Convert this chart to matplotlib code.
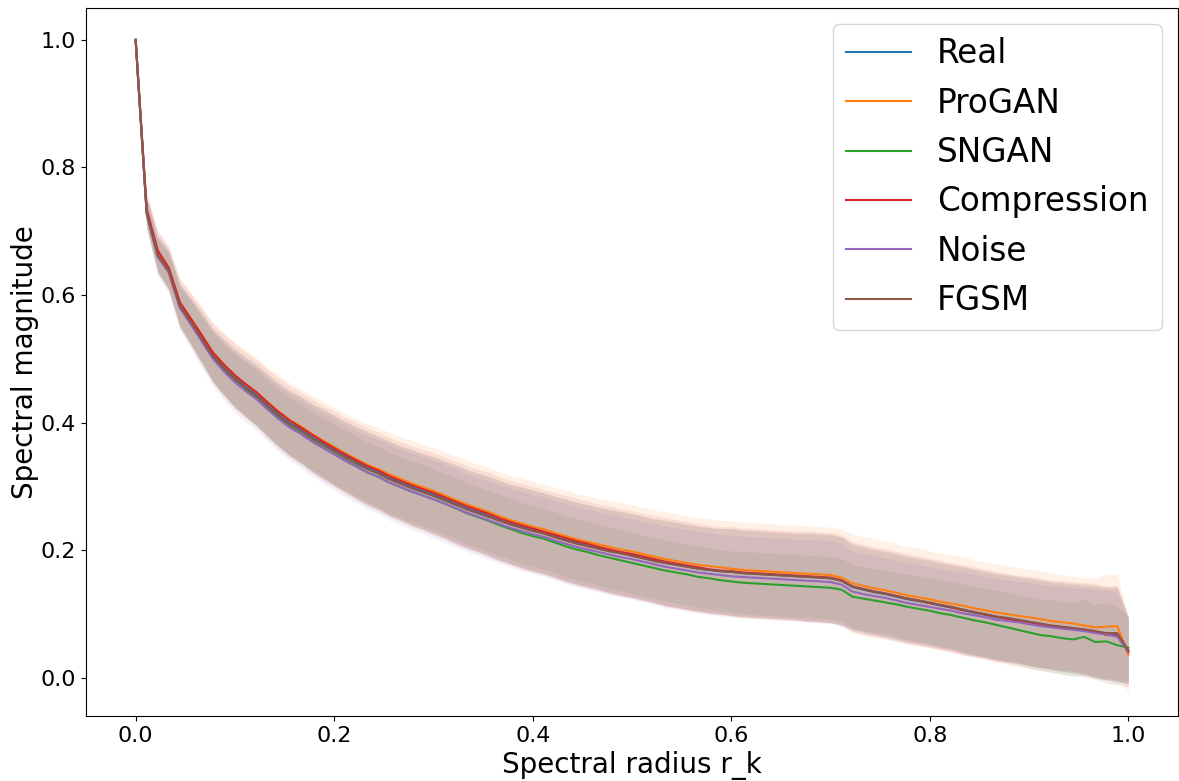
import numpy as np
import matplotlib
matplotlib.use("Agg")
import matplotlib.pyplot as plt

# Radially averaged spectra (mean and std over images), radius normalised to [0, 1]
radius = np.linspace(0.0, 1.0, 91)

labels = ["Real", "ProGAN", "SNGAN", "Compression", "Noise", "FGSM"]

real_mean = [1.000, 0.730, 0.665, 0.640, 0.585, 0.560, 0.533, 0.506, 0.487, 0.470,
             0.456, 0.443, 0.427, 0.412, 0.399, 0.389, 0.377, 0.367, 0.357, 0.347,
             0.338, 0.329, 0.322, 0.313, 0.306, 0.299, 0.293, 0.287, 0.280, 0.273,
             0.266, 0.260, 0.254, 0.247, 0.241, 0.236, 0.231, 0.227, 0.221, 0.216,
             0.211, 0.207, 0.203, 0.199, 0.195, 0.192, 0.188, 0.184, 0.180, 0.177,
             0.174, 0.171, 0.169, 0.167, 0.166, 0.164, 0.163, 0.162, 0.161, 0.160,
             0.159, 0.158, 0.157, 0.156, 0.152, 0.142, 0.138, 0.134, 0.131, 0.127,
             0.123, 0.120, 0.117, 0.113, 0.110, 0.106, 0.102, 0.099, 0.095, 0.093,
             0.090, 0.087, 0.084, 0.081, 0.079, 0.077, 0.074, 0.072, 0.068, 0.067,
             0.042]

progan_mean = [1.000, 0.733, 0.668, 0.641, 0.588, 0.563, 0.537, 0.510, 0.491, 0.474,
               0.460, 0.447, 0.431, 0.417, 0.404, 0.394, 0.382, 0.372, 0.362, 0.352,
               0.343, 0.334, 0.327, 0.319, 0.312, 0.305, 0.299, 0.293, 0.286, 0.279,
               0.272, 0.266, 0.260, 0.253, 0.247, 0.242, 0.237, 0.233, 0.227, 0.222,
               0.217, 0.213, 0.209, 0.205, 0.201, 0.198, 0.194, 0.190, 0.186, 0.183,
               0.180, 0.177, 0.175, 0.173, 0.171, 0.169, 0.168, 0.167, 0.166, 0.165,
               0.164, 0.163, 0.162, 0.161, 0.157, 0.148, 0.144, 0.140, 0.137, 0.133,
               0.129, 0.126, 0.123, 0.119, 0.116, 0.113, 0.109, 0.106, 0.102, 0.100,
               0.097, 0.095, 0.092, 0.089, 0.087, 0.085, 0.082, 0.079, 0.080, 0.081,
               0.036]

sngan_mean = [1.000, 0.728, 0.660, 0.637, 0.582, 0.557, 0.530, 0.503, 0.484, 0.467,
              0.452, 0.439, 0.422, 0.407, 0.394, 0.383, 0.371, 0.361, 0.351, 0.341,
              0.332, 0.322, 0.315, 0.306, 0.299, 0.292, 0.286, 0.280, 0.273, 0.266,
              0.258, 0.252, 0.246, 0.239, 0.233, 0.227, 0.222, 0.218, 0.212, 0.206,
              0.201, 0.197, 0.192, 0.188, 0.184, 0.180, 0.176, 0.172, 0.168, 0.165,
              0.162, 0.158, 0.156, 0.153, 0.151, 0.149, 0.148, 0.147, 0.146, 0.145,
              0.144, 0.143, 0.142, 0.141, 0.138, 0.127, 0.124, 0.121, 0.118, 0.115,
              0.111, 0.108, 0.105, 0.101, 0.098, 0.094, 0.090, 0.087, 0.083, 0.079,
              0.075, 0.071, 0.067, 0.065, 0.062, 0.060, 0.064, 0.056, 0.057, 0.051,
              0.047]

compression_mean = [1.000, 0.734, 0.670, 0.643, 0.589, 0.563, 0.537, 0.510, 0.491, 0.474,
                    0.460, 0.447, 0.431, 0.416, 0.403, 0.392, 0.381, 0.370, 0.360, 0.350,
                    0.341, 0.332, 0.325, 0.316, 0.309, 0.302, 0.296, 0.290, 0.283, 0.276,
                    0.269, 0.263, 0.257, 0.250, 0.244, 0.239, 0.234, 0.229, 0.224, 0.219,
                    0.214, 0.210, 0.205, 0.201, 0.197, 0.194, 0.190, 0.186, 0.182, 0.179,
                    0.176, 0.173, 0.170, 0.168, 0.167, 0.165, 0.164, 0.163, 0.162, 0.161,
                    0.160, 0.159, 0.158, 0.157, 0.153, 0.143, 0.139, 0.135, 0.132, 0.128,
                    0.124, 0.121, 0.117, 0.114, 0.110, 0.106, 0.103, 0.099, 0.096, 0.092,
                    0.089, 0.087, 0.084, 0.081, 0.079, 0.077, 0.075, 0.073, 0.067, 0.066,
                    0.040]

noise_mean = [1.000, 0.727, 0.660, 0.635, 0.580, 0.554, 0.527, 0.500, 0.480, 0.463,
              0.449, 0.436, 0.420, 0.405, 0.392, 0.382, 0.370, 0.360, 0.350, 0.340,
              0.331, 0.322, 0.315, 0.306, 0.299, 0.292, 0.286, 0.280, 0.273, 0.266,
              0.259, 0.253, 0.247, 0.241, 0.235, 0.230, 0.225, 0.221, 0.215, 0.210,
              0.205, 0.201, 0.197, 0.193, 0.189, 0.186, 0.182, 0.178, 0.174, 0.171,
              0.168, 0.165, 0.163, 0.161, 0.159, 0.158, 0.157, 0.156, 0.155, 0.154,
              0.153, 0.152, 0.151, 0.150, 0.146, 0.135, 0.131, 0.128, 0.125, 0.121,
              0.117, 0.114, 0.111, 0.108, 0.105, 0.101, 0.098, 0.095, 0.091, 0.089,
              0.087, 0.084, 0.081, 0.079, 0.077, 0.075, 0.073, 0.070, 0.068, 0.064,
              0.041]

fgsm_mean = [1.000, 0.729, 0.663, 0.638, 0.583, 0.558, 0.531, 0.504, 0.485, 0.468,
             0.454, 0.441, 0.425, 0.410, 0.397, 0.387, 0.375, 0.365, 0.355, 0.345,
             0.336, 0.327, 0.320, 0.311, 0.304, 0.297, 0.291, 0.285, 0.278, 0.271,
             0.264, 0.258, 0.252, 0.246, 0.240, 0.235, 0.230, 0.226, 0.220, 0.215,
             0.210, 0.206, 0.202, 0.198, 0.195, 0.191, 0.187, 0.183, 0.180, 0.177,
             0.174, 0.171, 0.169, 0.167, 0.166, 0.164, 0.163, 0.162, 0.161, 0.160,
             0.159, 0.158, 0.157, 0.156, 0.152, 0.143, 0.139, 0.135, 0.132, 0.128,
             0.124, 0.121, 0.118, 0.114, 0.111, 0.107, 0.103, 0.100, 0.096, 0.094,
             0.091, 0.088, 0.085, 0.082, 0.080, 0.078, 0.076, 0.073, 0.070, 0.070,
             0.043]

real_std = [0.000, 0.024, 0.028, 0.031, 0.034, 0.037, 0.040, 0.042, 0.044, 0.046,
            0.047, 0.048, 0.049, 0.050, 0.051, 0.052, 0.053, 0.054, 0.055, 0.055,
            0.056, 0.057, 0.057, 0.058, 0.058, 0.059, 0.059, 0.060, 0.060, 0.061,
            0.061, 0.061, 0.062, 0.062, 0.062, 0.063, 0.063, 0.063, 0.063, 0.064,
            0.064, 0.064, 0.064, 0.065, 0.065, 0.065, 0.065, 0.065, 0.066, 0.066,
            0.066, 0.066, 0.066, 0.066, 0.067, 0.067, 0.067, 0.067, 0.067, 0.067,
            0.067, 0.068, 0.068, 0.068, 0.068, 0.066, 0.066, 0.066, 0.066, 0.066,
            0.066, 0.066, 0.066, 0.066, 0.066, 0.067, 0.067, 0.067, 0.067, 0.067,
            0.067, 0.068, 0.068, 0.068, 0.069, 0.069, 0.070, 0.071, 0.072, 0.073,
            0.052]

progan_std = [0.000, 0.027, 0.032, 0.035, 0.038, 0.042, 0.045, 0.047, 0.050, 0.052,
              0.053, 0.054, 0.055, 0.057, 0.058, 0.059, 0.060, 0.061, 0.062, 0.062,
              0.063, 0.064, 0.065, 0.066, 0.066, 0.067, 0.067, 0.068, 0.068, 0.069,
              0.069, 0.069, 0.070, 0.070, 0.070, 0.071, 0.071, 0.071, 0.071, 0.072,
              0.072, 0.072, 0.072, 0.073, 0.073, 0.073, 0.073, 0.073, 0.074, 0.074,
              0.074, 0.074, 0.074, 0.074, 0.075, 0.075, 0.075, 0.075, 0.075, 0.075,
              0.075, 0.075, 0.075, 0.075, 0.076, 0.077, 0.078, 0.078, 0.077, 0.077,
              0.076, 0.077, 0.076, 0.076, 0.076, 0.077, 0.076, 0.076, 0.076, 0.076,
              0.075, 0.076, 0.076, 0.075, 0.075, 0.074, 0.075, 0.078, 0.082, 0.082,
              0.058]

sngan_std = [0.000, 0.022, 0.026, 0.028, 0.031, 0.034, 0.036, 0.038, 0.040, 0.041,
             0.042, 0.043, 0.044, 0.044, 0.045, 0.045, 0.046, 0.046, 0.047, 0.047,
             0.047, 0.047, 0.048, 0.048, 0.048, 0.048, 0.048, 0.048, 0.048, 0.048,
             0.048, 0.048, 0.048, 0.048, 0.048, 0.048, 0.048, 0.048, 0.048, 0.048,
             0.048, 0.048, 0.048, 0.048, 0.048, 0.048, 0.048, 0.048, 0.048, 0.048,
             0.048, 0.048, 0.048, 0.048, 0.048, 0.048, 0.049, 0.049, 0.049, 0.049,
             0.049, 0.049, 0.049, 0.049, 0.049, 0.050, 0.050, 0.050, 0.050, 0.050,
             0.051, 0.051, 0.051, 0.052, 0.052, 0.053, 0.053, 0.054, 0.054, 0.055,
             0.055, 0.056, 0.056, 0.057, 0.057, 0.058, 0.059, 0.059, 0.060, 0.060,
             0.050]

compression_std = [0.000, 0.025, 0.030, 0.033, 0.036, 0.039, 0.042, 0.045, 0.047, 0.049,
                   0.050, 0.051, 0.052, 0.053, 0.054, 0.055, 0.056, 0.057, 0.058, 0.058,
                   0.059, 0.060, 0.060, 0.061, 0.061, 0.062, 0.062, 0.063, 0.063, 0.064,
                   0.064, 0.064, 0.065, 0.065, 0.065, 0.066, 0.066, 0.066, 0.066, 0.067,
                   0.067, 0.067, 0.067, 0.068, 0.068, 0.068, 0.068, 0.068, 0.069, 0.069,
                   0.069, 0.069, 0.069, 0.069, 0.070, 0.070, 0.070, 0.070, 0.070, 0.070,
                   0.070, 0.071, 0.071, 0.071, 0.071, 0.070, 0.070, 0.070, 0.070, 0.070,
                   0.070, 0.070, 0.070, 0.070, 0.070, 0.071, 0.071, 0.071, 0.071, 0.071,
                   0.071, 0.072, 0.072, 0.072, 0.073, 0.073, 0.074, 0.075, 0.076, 0.077,
                   0.054]

noise_std = [0.000, 0.025, 0.029, 0.032, 0.035, 0.038, 0.041, 0.043, 0.045, 0.047,
             0.048, 0.049, 0.050, 0.051, 0.052, 0.053, 0.054, 0.055, 0.056, 0.056,
             0.057, 0.058, 0.058, 0.059, 0.059, 0.060, 0.060, 0.061, 0.061, 0.061,
             0.061, 0.061, 0.062, 0.062, 0.062, 0.062, 0.062, 0.062, 0.062, 0.063,
             0.063, 0.063, 0.063, 0.063, 0.063, 0.063, 0.063, 0.063, 0.064, 0.064,
             0.064, 0.064, 0.064, 0.064, 0.064, 0.064, 0.064, 0.064, 0.064, 0.064,
             0.064, 0.065, 0.065, 0.065, 0.065, 0.063, 0.063, 0.063, 0.063, 0.063,
             0.063, 0.063, 0.063, 0.063, 0.063, 0.064, 0.064, 0.064, 0.064, 0.064,
             0.064, 0.065, 0.065, 0.065, 0.066, 0.066, 0.067, 0.068, 0.069, 0.070,
             0.050]

fgsm_std = [0.000, 0.024, 0.028, 0.031, 0.034, 0.037, 0.040, 0.042, 0.044, 0.046,
            0.047, 0.048, 0.050, 0.051, 0.052, 0.053, 0.054, 0.055, 0.056, 0.056,
            0.057, 0.058, 0.058, 0.059, 0.059, 0.060, 0.060, 0.061, 0.061, 0.062,
            0.062, 0.062, 0.063, 0.063, 0.063, 0.064, 0.064, 0.064, 0.064, 0.065,
            0.065, 0.065, 0.065, 0.066, 0.066, 0.066, 0.066, 0.066, 0.067, 0.067,
            0.067, 0.067, 0.067, 0.067, 0.068, 0.068, 0.068, 0.068, 0.068, 0.068,
            0.068, 0.069, 0.069, 0.069, 0.069, 0.067, 0.067, 0.067, 0.067, 0.067,
            0.067, 0.067, 0.067, 0.067, 0.067, 0.068, 0.068, 0.068, 0.068, 0.068,
            0.068, 0.069, 0.069, 0.069, 0.070, 0.070, 0.071, 0.072, 0.073, 0.074,
            0.053]

means = [real_mean, progan_mean, sngan_mean, compression_mean, noise_mean, fgsm_mean]
stds = [real_std, progan_std, sngan_std, compression_std, noise_std, fgsm_std]

fig = plt.figure(figsize=(11.79, 7.81), dpi=100)
ax = fig.add_axes([86 / 1179, 65 / 781, 1092 / 1179, 708 / 781])

for i, (name, m, s) in enumerate(zip(labels, means, stds)):
    m = np.asarray(m)
    s = np.asarray(s)
    color = f"C{i}"
    ax.plot(radius, m, color=color, lw=1.5, label=name)
    ax.fill_between(radius, m - s, m + s, color=color, alpha=0.1, lw=0)

ax.set_xlim(-0.05, 1.05)
ax.set_ylim(-0.06, 1.05)
ax.set_xticks([0.0, 0.2, 0.4, 0.6, 0.8, 1.0])
ax.set_yticks([0.0, 0.2, 0.4, 0.6, 0.8, 1.0])
ax.tick_params(labelsize=16)
ax.set_xlabel("Spectral radius r_k", fontsize=20)
ax.set_ylabel("Spectral magnitude", fontsize=20, labelpad=1.5)
ax.legend(loc="upper right", fontsize=23.5)

fig.savefig("out.png", dpi=100)
